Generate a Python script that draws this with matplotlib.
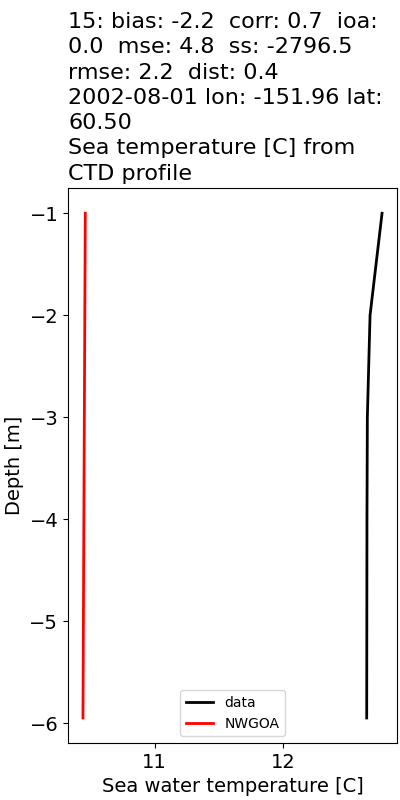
import matplotlib
matplotlib.use("Agg")
from matplotlib import pyplot as plt

depth = [-1.0, -2.0, -3.0, -4.0, -5.0, -5.95]
data_temp = [12.765, 12.672, 12.651, 12.648, 12.647, 12.646]
model_depth = [-1.0, -5.95]
model_temp = [10.463, 10.445]

title = ("15: bias: -2.2  corr: 0.7  ioa:\n0.0  mse: 4.8  ss: -2796.5\n"
         "rmse: 2.2  dist: 0.4\n2002-08-01 lon: -151.96 lat:\n60.50\n"
         "Sea temperature [C] from\nCTD profile")

fig = plt.figure(figsize=(4, 8), dpi=100)
ax = fig.add_axes([0.17, 0.071, 0.8225, 0.694])
ax.plot(data_temp, depth, color="k", linewidth=2, label="data")
ax.plot(model_temp, model_depth, color="r", linewidth=2, label="NWGOA")
ax.set_xlabel("Sea water temperature [C]", fontsize=14)
ax.set_ylabel("Depth [m]", fontsize=14)
ax.tick_params(labelsize=14)
ax.legend(loc="lower center", fontsize=10)
ax.set_title(title, fontsize=16, loc="left", linespacing=1.33)
plt.savefig("out.png")
